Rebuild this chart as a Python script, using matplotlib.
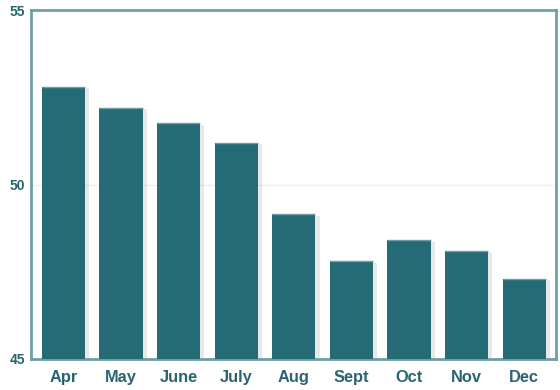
import matplotlib
matplotlib.use("Agg")
import matplotlib.pyplot as plt
import matplotlib.patheffects as pe

months = ["Apr", "May", "June", "July", "Aug", "Sept", "Oct", "Nov", "Dec"]
values = [52.8, 52.2, 51.75, 51.2, 49.15, 47.8, 48.4, 48.1, 47.3]
y_ticks = [45, 50, 55]

bar_color = "#256b75"
spine_color = "#6e9fa3"
text_color = "#2a6470"

plt.rcParams["font.family"] = ["Liberation Sans", "DejaVu Sans"]

fig = plt.figure(figsize=(5.6, 3.9), dpi=100)
ax = fig.add_axes([31 / 560, 31 / 390, 525 / 560, 349 / 390])

x = list(range(len(months)))
bars = ax.bar(x, values, width=0.75, color=bar_color, zorder=3,
              path_effects=[pe.SimplePatchShadow(offset=(3, -1), shadow_rgbFace="#999999", alpha=0.22),
                            pe.Normal()])
# light edge on top of each bar
for xi, v in zip(x, values):
    ax.plot([xi - 0.375, xi + 0.375], [v, v], color="#6f9ea4", lw=1, zorder=4,
            solid_capstyle="butt")

ax.set_xlim(-0.56, 8.55)
ax.set_ylim(45, 55)
ax.set_yticks(y_ticks)
ax.set_xticks(x)
ax.set_xticklabels(months)
ax.grid(axis="y", color="#eeeeee", lw=1, zorder=0)
ax.tick_params(length=0)
ax.tick_params(axis="x", pad=8, labelsize=11.8, labelcolor=text_color)
ax.tick_params(axis="y", pad=4, labelsize=10, labelcolor=text_color)
for lab in ax.get_xticklabels() + ax.get_yticklabels():
    lab.set_fontweight("bold")

for s in ax.spines.values():
    s.set_color(spine_color)
    s.set_linewidth(2)

fig.savefig("out.png", dpi=100)
